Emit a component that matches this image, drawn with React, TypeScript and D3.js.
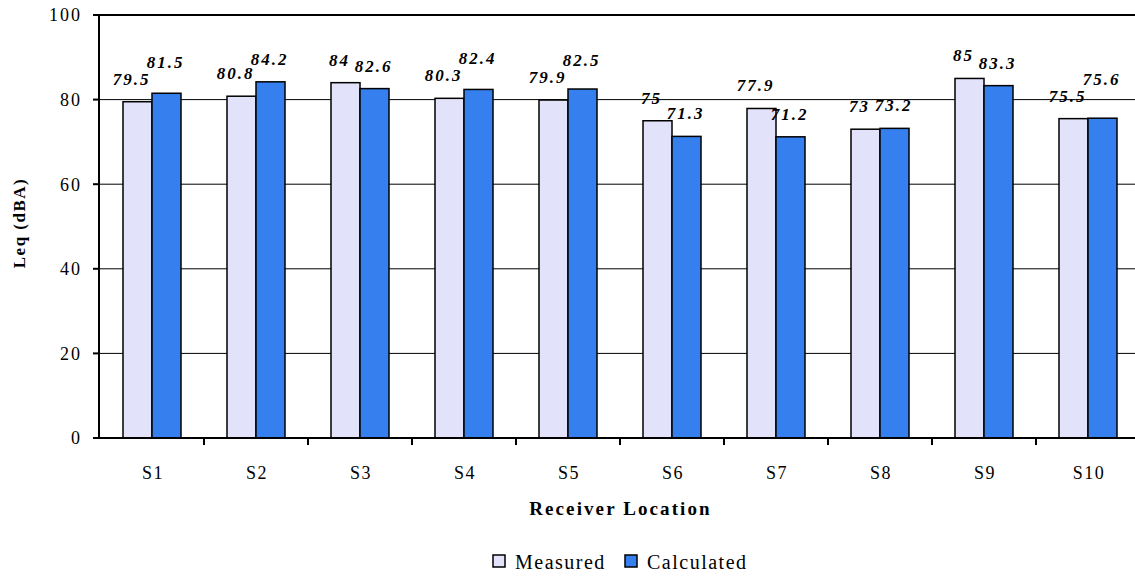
import React from "react";
import * as d3 from "d3";

const locations = ["S1", "S2", "S3", "S4", "S5", "S6", "S7", "S8", "S9", "S10"];
const measured = [79.5, 80.8, 84, 80.3, 79.9, 75, 77.9, 73, 85, 75.5];
const calculated = [81.5, 84.2, 82.6, 82.4, 82.5, 71.3, 71.2, 73.2, 83.3, 75.6];
const seriesNames = ["Measured", "Calculated"];
const seriesColors = ["#e2e2fa", "#3580ee"];
const yTicks = [0, 20, 40, 60, 80, 100];

const W = 1135;
const H = 576;
const left = 99;
const top = 15;
const bottom = 438;
const step = 104;
const barW = 29;
const serif = "'Liberation Serif', 'Times New Roman', serif";

const labelSize = 17;
const labelSpacing = 2;
// horizontal nudge of each series' value labels
const labelShift = [-6, -1];

// rough width of a bold italic number label
function labelWidth(v: number) {
  const s = String(v);
  let w = 0;
  for (const ch of s) w += (ch === "." ? 0.25 : 0.5) * labelSize;
  return w + (s.length - 1) * labelSpacing;
}

export default function App() {
  const x = d3
    .scaleBand<string>()
    .domain(locations)
    .range([left + 1, left + 1 + step * locations.length])
    .padding(0);
  const bw = x.bandwidth();
  const inner = d3
    .scaleBand<string>()
    .domain(seriesNames)
    .range([bw / 2 - barW, bw / 2 + barW]);
  const y = d3.scaleLinear().domain([0, 100]).range([bottom, top]);

  const values = [measured, calculated];
  const plotRight = left + 1 + step * locations.length;
  const plotMid = (left + plotRight) / 2;

  // value labels above each bar; when a pair would collide, the taller bar's label moves up a row
  const lift = 17;
  const rowGap = 17;
  const labels = locations.flatMap((loc, i) => {
    const x0 = x(loc)!;
    const items = seriesNames.map((s, k) => ({
      key: loc + s,
      v: values[k][i],
      x: x0 + inner(s)! + barW / 2 + labelShift[k],
      y: y(values[k][i]) - lift,
    }));
    const [a, b] = items;
    const overlapX = Math.abs(a.x - b.x) < (labelWidth(a.v) + labelWidth(b.v)) / 2;
    const overlapY = Math.abs(a.y - b.y) < 13;
    if (overlapX && overlapY) {
      const [hi, lo] = a.v >= b.v ? [a, b] : [b, a];
      hi.y = Math.min(hi.y, lo.y - rowGap);
    }
    return items;
  });

  return (
    <svg
      width={W}
      height={H}
      style={{ position: "absolute", left: 0, top: 0, background: "#fff" }}
      fontFamily={serif}
    >
      {/* gridlines */}
      {yTicks
        .filter((t) => t > 0 && t < 100)
        .map((t) => (
          <line key={"g" + t} x1={left} x2={W} y1={y(t)} y2={y(t)} stroke="#000" strokeWidth={1} />
        ))}

      {/* bars */}
      {locations.map((loc, i) =>
        seriesNames.map((s, k) => (
          <rect
            key={loc + s}
            x={x(loc)! + inner(s)!}
            y={y(values[k][i])}
            width={barW}
            height={bottom - y(values[k][i])}
            fill={seriesColors[k]}
            stroke="#000"
            strokeWidth={1.5}
          />
        ))
      )}

      {/* frame */}
      <line x1={left} x2={W} y1={top} y2={top} stroke="#000" strokeWidth={2} />
      <line x1={left} x2={left} y1={top - 1} y2={bottom + 1} stroke="#000" strokeWidth={2} />
      <line x1={left - 6} x2={W} y1={bottom} y2={bottom} stroke="#000" strokeWidth={2} />

      {/* y axis */}
      {yTicks.map((t) => (
        <g key={"y" + t}>
          <line x1={left - 6} x2={left} y1={y(t)} y2={y(t)} stroke="#000" strokeWidth={2} />
          <text
            x={left - 17}
            y={y(t)}
            dy="0.35em"
            textAnchor="end"
            fontSize={18}
            letterSpacing={2}
          >
            {t}
          </text>
        </g>
      ))}

      {/* x axis */}
      {locations.map((loc) => (
        <g key={"x" + loc}>
          <line
            x1={x(loc)! + bw}
            x2={x(loc)! + bw}
            y1={bottom}
            y2={bottom + 7}
            stroke="#000"
            strokeWidth={2}
          />
          <text x={x(loc)! + bw / 2 + 1} y={479} textAnchor="middle" fontSize={18} letterSpacing={1.5}>
            {loc}
          </text>
        </g>
      ))}

      {/* value labels */}
      {labels.map((l) => (
        <text
          key={l.key}
          x={l.x}
          y={l.y}
          textAnchor="middle"
          fontSize={labelSize}
          fontWeight="bold"
          fontStyle="italic"
          letterSpacing={labelSpacing}
        >
          {l.v}
        </text>
      ))}

      {/* axis titles */}
      <text
        x={plotMid + 1}
        y={515}
        textAnchor="middle"
        fontSize={19}
        fontWeight="bold"
        letterSpacing={2.1}
      >
        Receiver Location
      </text>
      <text
        transform={`translate(25, 223) rotate(-90)`}
        textAnchor="middle"
        fontSize={17}
        fontWeight="bold"
        letterSpacing={1.5}
      >
        Leq (dBA)
      </text>

      {/* legend */}
      {seriesNames.map((s, k) => {
        const lx = k === 0 ? 493 : 625;
        return (
          <g key={"lg" + s}>
            <rect x={lx} y={555} width={12} height={12} fill={seriesColors[k]} stroke="#000" strokeWidth={1.5} />
            <text x={lx + 22} y={569} fontSize={20} letterSpacing={1.5}>
              {s}
            </text>
          </g>
        );
      })}
    </svg>
  );
}
